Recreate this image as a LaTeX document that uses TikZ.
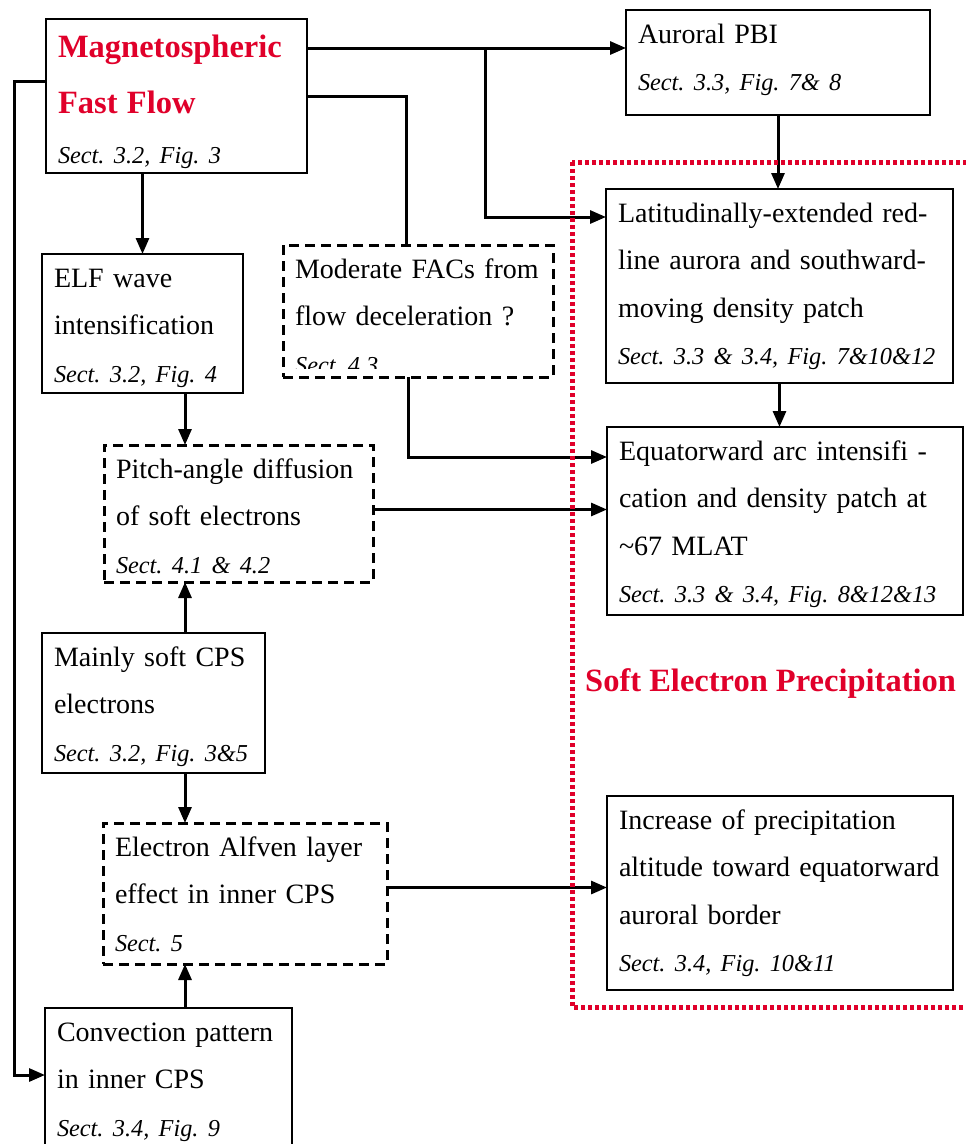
\documentclass[tikz,border=0pt]{standalone}
\usepackage{fontspec}
\setmainfont{Liberation Serif}
\usetikzlibrary{arrows.meta, calc}
\definecolor{flowred}{RGB}{224,0,42}
\newcommand{\refline}[1]{{\fontsize{24.3}{47.5}\selectfont\itshape #1}}

\begin{document}
\begin{tikzpicture}[
    x=1pt, y=-1pt,
    box/.style={draw, line width=2.2pt, outer sep=0pt, anchor=north west, align=left, inner xsep=12pt, inner ysep=14pt, text height=19pt, font=\fontsize{28}{47.5}\selectfont\frenchspacing},
    dbox/.style={box, line width=3pt, dash pattern=on 10pt off 6pt},
    arrow/.style={-{Triangle[length=16pt, width=13pt]}, line width=3pt},
    link/.style={line width=3pt},
    region/.style={draw=flowred, line width=5pt, dash pattern=on 4pt off 3pt}
]
\clip[use as bounding box] (0,0) rectangle (966,1144);

% left column
\node[box, text width=237pt, text height=24pt, text depth=102pt] (mff) at (46,19) {{\fontsize{32.5}{56}\selectfont\bfseries\color{flowred}Magnetospheric\\Fast Flow\\[2.5pt]}\refline{Sect. 3.2, Fig. 3}};
\node[box, text width=177pt, text depth=92pt] (elf) at (42,254) {ELF wave\\intensification\\\refline{Sect. 3.2, Fig. 4}};
\node[dbox, text width=245pt, text depth=90pt] (pitch) at (104,445) {Pitch-angle diffusion\\of soft electrons\\\refline{Sect. 4.1 \& 4.2}};
\node[box, text width=199pt, text depth=93pt] (soft) at (42,633) {Mainly soft CPS\\electrons\\\refline{Sect. 3.2, Fig. 3\&5}};
\node[dbox, text width=260pt, text depth=94pt] (alfven) at (103,823) {Electron Alfven layer\\effect in inner CPS\\\refline{Sect. 5}};
\node[box, text width=223pt, text depth=103pt] (conv) at (45,1008) {Convection pattern\\in inner CPS\\\refline{Sect. 3.4, Fig. 9}};

% middle
\node[dbox, text width=246pt, text depth=85pt] (mfac) at (283,245) {Moderate FACs from\\flow deceleration ?};
\begin{scope}
  \clip (mfac.north west) rectangle ([yshift=9pt]mfac.south east);
  \node[anchor=base west, inner sep=0pt, font=\fontsize{24.3}{47.5}\selectfont\itshape\frenchspacing] (mfacref) at ($(mfac.north west)+(12,128)$) {Sect. 4.3};
\end{scope}

% right column
\node[box, text width=280pt, text depth=58pt] (pbi) at (626,10) {Auroral PBI\\\refline{Sect. 3.3, Fig. 7\& 8}};
\node[box, text width=323pt, text depth=147pt] (lat) at (606,189) {Latitudinally-extended red-\\line aurora and southward-\\moving density patch\\\refline{Sect. 3.3 \& 3.4, Fig. 7\&10\&12}};
\node[box, text width=332pt, text depth=141pt] (eq) at (607,427) {Equatorward arc intensifi -\\cation and density patch at\\\textasciitilde 67 MLAT\\\refline{Sect. 3.3 \& 3.4, Fig. 8\&12\&13}};
\node[box, text width=322pt, text depth=147pt] (incr) at (607,796) {Increase of precipitation\\altitude toward equatorward\\auroral border\\\refline{Sect. 3.4, Fig. 10\&11}};

\node[anchor=base west, inner sep=0pt, font=\fontsize{32.5}{40}\selectfont\bfseries, text=flowred] (sep) at (585,691) {Soft Electron Precipitation};

% connectors
\coordinate (spine) at (185,0);
\coordinate (tap) at ([yshift=-29pt]mff.north east);
\draw[arrow] (tap) -- (tap -| pbi.west);
\draw[arrow] ([xshift=178pt]tap) |- ([yshift=-28pt]lat.north west);
\draw[link] (mff.east) -| ([xshift=-12pt]mfac.north);
\draw[arrow] (elf.north |- mff.south) -- (elf.north);
\draw[arrow] (pbi.south) -- (pbi.south |- lat.north);
\draw[arrow] (lat.south) -- (lat.south |- eq.north);
\draw[arrow] ([xshift=-10pt]mfac.south) |- ([yshift=-30pt]eq.north west);
\draw[arrow] (spine |- elf.south) -- (spine |- pitch.north);
\draw[arrow] ([yshift=4pt]pitch.east) -- ([yshift=4pt]pitch.east -| eq.west);
\draw[arrow] (spine |- soft.north) -- (spine |- pitch.south);
\draw[arrow] (spine |- soft.south) -- (spine |- alfven.north);
\draw[arrow] ([yshift=6pt]alfven.east) -- ([yshift=6pt]alfven.east -| incr.west);
\draw[arrow] (spine |- conv.north) -- (spine |- alfven.south);
\draw[arrow] ([yshift=15pt]mff.west) -- ++(-32,0) |- ([yshift=-67pt]conv.north west);

% soft electron precipitation region
\draw[region] (572,162) rectangle (985,1007);

\end{tikzpicture}
\end{document}
